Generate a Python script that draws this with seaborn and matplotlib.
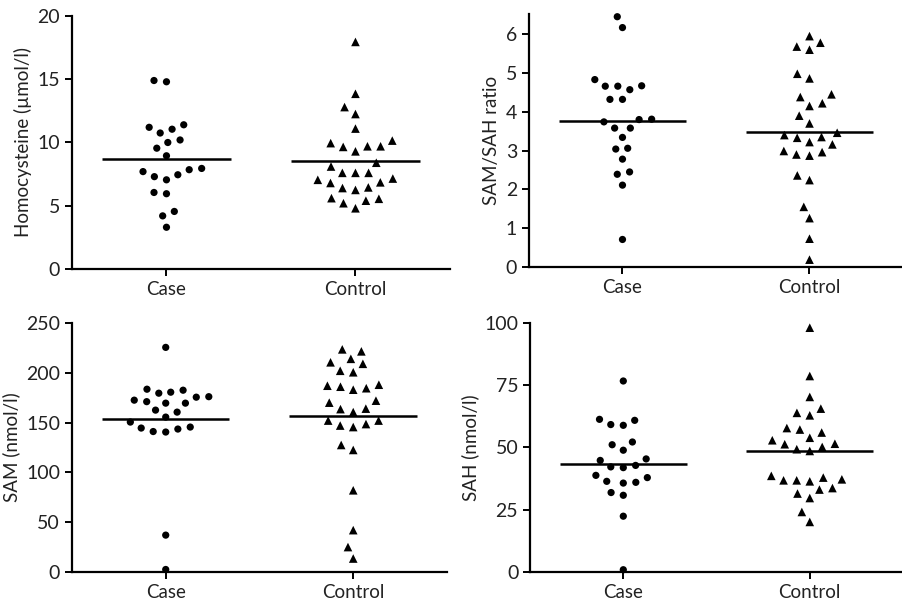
import numpy as np
import pandas as pd
import matplotlib
matplotlib.use("Agg")
import matplotlib.pyplot as plt
import seaborn as sns

groups = ["Case", "Control"]

hcy_case = [14.9, 14.8, 11.4, 11.05, 11.2, 10.75, 10.2, 10.0, 9.55, 8.95, 7.85, 7.45,
            7.05, 7.3, 7.7, 7.95, 5.95, 6.05, 4.55, 4.2, 3.3]
hcy_ctrl = [17.95, 13.85, 12.8, 12.25, 11.1, 10.15, 9.95, 9.7, 9.65, 9.7, 9.3, 8.4,
            8.1, 7.6, 7.6, 7.6, 7.05, 7.15, 6.8, 6.85, 6.4, 6.25, 6.45, 5.6, 5.4,
            5.55, 5.2, 4.8]

ratio_case = [6.45, 6.17, 4.83, 4.66, 4.57, 4.66, 4.67, 4.32, 4.32, 3.8, 3.74, 3.81,
              3.58, 3.58, 3.34, 3.04, 3.06, 2.78, 2.39, 2.45, 2.11, 0.71]
ratio_ctrl = [5.95, 5.78, 5.6, 5.68, 4.98, 4.86, 4.45, 4.38, 4.22, 4.15, 3.9, 3.7,
              3.4, 3.33, 3.35, 3.46, 3.16, 3.22, 2.99, 2.96, 2.87, 2.9, 2.36, 2.24,
              1.55, 1.26, 0.73, 0.19]

sam_case = [225.5, 179.5, 175.5, 183.5, 182.5, 171.0, 169.5, 169.5, 172.5, 176.0,
            180.5, 160.5, 162.5, 155.5, 150.5, 145.5, 143.5, 140.5, 141.0, 144.5,
            37.0, 2.5]
sam_ctrl = [221.5, 223.5, 214.0, 209.0, 210.5, 200.5, 202.0, 187.0, 184.5, 183.0,
            186.0, 188.0, 172.0, 170.0, 164.0, 160.5, 163.5, 152.0, 147.0, 145.5,
            148.5, 152.0, 122.5, 127.5, 82.0, 42.0, 25.0, 13.5]

sah_case = [76.7, 60.9, 58.9, 59.2, 61.3, 51.1, 52.2, 48.9, 45.4, 44.8, 42.8, 41.9,
            42.2, 37.9, 38.8, 36.0, 35.7, 36.4, 30.8, 31.9, 22.4, 0.9]
sah_ctrl = [98.1, 78.7, 70.3, 65.6, 63.9, 62.9, 57.2, 57.8, 53.9, 56.0, 52.9, 51.3,
            51.5, 49.3, 48.6, 50.2, 37.9, 38.6, 36.8, 36.4, 36.8, 37.2, 33.7, 33.1,
            31.5, 29.7, 24.1, 20.1]

ylabels = ["Homocysteine (\u00b5mol/l)", "SAM/SAH ratio", "SAM (nmol/l)", "SAH (nmol/l)"]
ylims = [(0, 20), (0, 6.52), (0, 250), (0, 100)]
yticks = [[0, 5, 10, 15, 20], [0, 1, 2, 3, 4, 5, 6], [0, 50, 100, 150, 200, 250],
          [0, 25, 50, 75, 100]]

panels = [(hcy_case, hcy_ctrl), (ratio_case, ratio_ctrl), (sam_case, sam_ctrl),
          (sah_case, sah_ctrl)]

sns.set_style("ticks")
plt.rcParams["font.family"] = ["Lato", "DejaVu Sans"]
plt.rcParams["font.size"] = 13

fig = plt.figure(figsize=(9.03, 6.01), dpi=100)
rects = [
    [0.0797, 0.5524, 0.4186, 0.4210],
    [0.5858, 0.5557, 0.4142, 0.4210],
    [0.0797, 0.0483, 0.4153, 0.4143],
    [0.5870, 0.0483, 0.4130, 0.4143],
]

for k, (case, ctrl) in enumerate(panels):
    ax = fig.add_axes(rects[k])
    df = pd.DataFrame({
        "group": ["Case"] * len(case) + ["Control"] * len(ctrl),
        "value": case + ctrl,
    })
    # invisible edge widens the swarm spacing, like the GraphPad column scatter
    sns.swarmplot(data=df[df.group == "Case"], x="group", y="value", order=groups,
                  color="black", marker="o", size=5.2, linewidth=3.4,
                  edgecolor="none", ax=ax)
    sns.swarmplot(data=df[df.group == "Control"], x="group", y="value", order=groups,
                  color="black", marker="^", size=6.2, linewidth=2.8,
                  edgecolor="none", ax=ax)
    # let the top point of the ratio panel poke above the axis, as in the original
    for coll in ax.collections:
        if len(coll.get_offsets()) > 1:
            coll.set_clip_on(False)
    means = df.groupby("group")["value"].mean()
    for i, g in enumerate(groups):
        ax.hlines(means[g], i - 0.34, i + 0.34, color="black", lw=1.8, zorder=4)

    ax.set_xlim(-0.5, 1.5)
    ax.set_ylim(*ylims[k])
    ax.set_yticks(yticks[k])
    ax.set_xlabel("")
    ax.set_ylabel(ylabels[k], fontsize=13.5, color="#222222")
    for side in ["top", "right"]:
        ax.spines[side].set_visible(False)
    for side in ["left", "bottom"]:
        ax.spines[side].set_linewidth(1.6)
        ax.spines[side].set_color("black")
    ax.tick_params(axis="both", direction="out", length=5, width=1.4,
                   colors="black", labelcolor="#222222")
    ax.tick_params(axis="y", labelsize=14)
    ax.tick_params(axis="x", labelsize=13.5)
    ax.patch.set_alpha(0)

fig.savefig("out.png", dpi=100)
